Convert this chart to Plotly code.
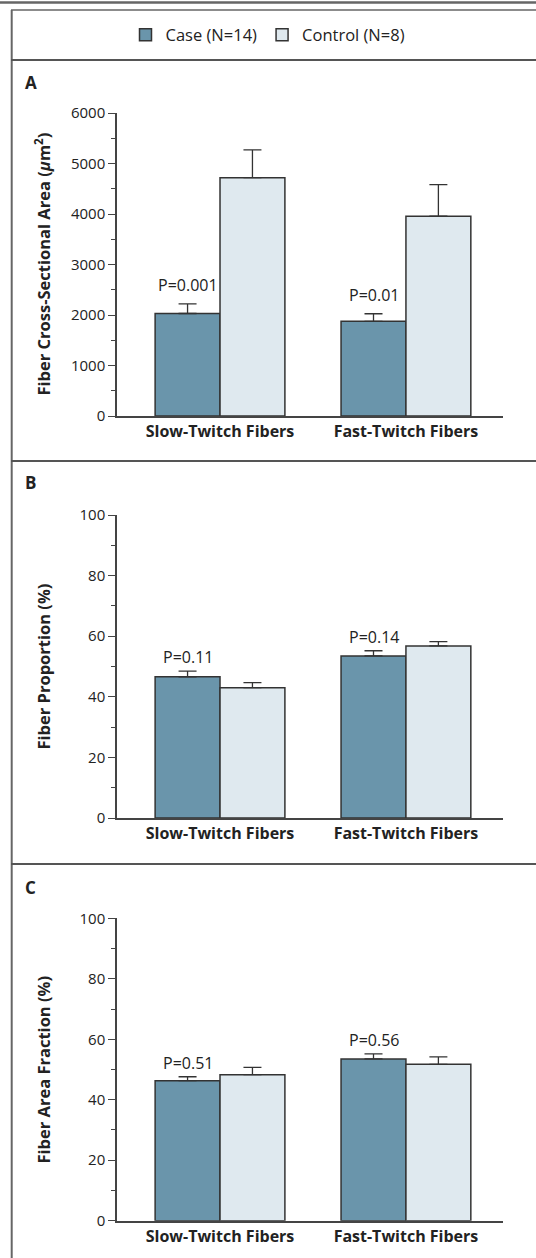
import plotly.graph_objects as go

categories = ["Slow-Twitch Fibers", "Fast-Twitch Fibers"]
series_names = ["Case (N=14)", "Control (N=8)"]

area_case = [2030, 1875]
area_case_err = [190, 150]
area_ctrl = [4720, 3955]
area_ctrl_err = [550, 625]

prop_case = [46.6, 53.5]
prop_case_err = [1.9, 1.7]
prop_ctrl = [43.0, 56.8]
prop_ctrl_err = [1.7, 1.4]

frac_case = [46.3, 53.5]
frac_case_err = [1.3, 1.7]
frac_ctrl = [48.3, 51.7]
frac_ctrl_err = [2.4, 2.5]

p_area = ["P=0.001", "P=0.01"]
p_prop = ["P=0.11", "P=0.14"]
p_frac = ["P=0.51", "P=0.56"]

y_titles = ["Fiber Cross-Sectional Area (<i>µ</i>m<sup>2</sup>)",
            "Fiber Proportion (%)", "Fiber Area Fraction (%)"]
panel_letters = ["A", "B", "C"]
y_ranges = [[0, 6000], [0, 100], [0, 100]]
y_dticks = [1000, 20, 20]

W, H = 536, 1258
FONT = "Open Sans"
CASE_COLOR = "#6a95ab"
CTRL_COLOR = "#dfe9ef"
EDGE = "#333333"

panels = [
    (area_case, area_case_err, area_ctrl, area_ctrl_err, p_area, 19),
    (prop_case, prop_case_err, prop_ctrl, prop_ctrl_err, p_prop, 14),
    (frac_case, frac_case_err, frac_ctrl, frac_ctrl_err, p_frac, 14),
]
# pixel positions (top of range, bottom of range)
pix = [(113, 416), (515, 818), (918.3, 1220.7)]
x_dom = [117 / W, 503 / W]

fig = go.Figure()
layout = dict(
    width=W, height=H, autosize=False,
    margin=dict(l=0, r=0, t=0, b=0, pad=0, autoexpand=False),
    paper_bgcolor="white", plot_bgcolor="white",
    font=dict(family=FONT, size=14, color="#222"),
    barmode="overlay",
    showlegend=True,
    legend=dict(orientation="h", x=0.5, xanchor="center", y=1 - 35 / H, yanchor="middle",
                font=dict(size=16.5, color="#222"), itemwidth=30, tracegroupgap=0,
                bgcolor="rgba(0,0,0,0)"),
)
annotations = []
shapes = []

for i, (cv, ce, tv, te, pv, shift) in enumerate(panels):
    n = "" if i == 0 else str(i + 1)
    xa = "x" + n
    ya = "y" + n
    fig.add_trace(go.Bar(
        x=categories, y=cv, name=series_names[0], xaxis=xa, yaxis=ya,
        offset=-0.349, width=0.349,
        marker=dict(color=CASE_COLOR, line=dict(color=EDGE, width=1.5)),
        error_y=dict(type="data", array=ce, arrayminus=[0] * len(ce), symmetric=False,
                     color=EDGE, thickness=1.3, width=9),
        showlegend=(i == 0), legendgroup="case",
    ))
    fig.add_trace(go.Bar(
        x=categories, y=tv, name=series_names[1], xaxis=xa, yaxis=ya,
        offset=0, width=0.349,
        marker=dict(color=CTRL_COLOR, line=dict(color=EDGE, width=1.5)),
        error_y=dict(type="data", array=te, arrayminus=[0] * len(te), symmetric=False,
                     color=EDGE, thickness=1.3, width=9),
        showlegend=(i == 0), legendgroup="ctrl",
    ))
    top, bot = pix[i]
    dom = [1 - bot / H, 1 - top / H]
    layout["xaxis" + n] = dict(
        domain=x_dom, anchor=ya, type="category", automargin=False,
        range=[-0.554, 1.522], showline=True, linecolor="#444", linewidth=1.5,
        ticks="", showgrid=False, zeroline=False,
        tickfont=dict(family=FONT, size=16, weight="bold", color="#222"),
    )
    layout["yaxis" + n] = dict(
        domain=dom, anchor=xa, range=y_ranges[i], dtick=y_dticks[i], automargin=False,
        showline=True, linecolor="#444", linewidth=1.5,
        ticks="outside", ticklen=7, tickwidth=1.3, tickcolor="#444",
        minor=dict(dtick=y_dticks[i] / 2, ticks="outside", ticklen=4, tickwidth=1.3,
                   tickcolor="#444", showgrid=False),
        showgrid=False, zeroline=False,
        tickfont=dict(family=FONT, size=15, color="#222"),
    )
    # p-value labels above case bars
    for j, cat in enumerate(categories):
        annotations.append(dict(
            x=j - 0.1745, y=cv[j] + ce[j], xref=xa, yref=ya, text=pv[j],
            showarrow=False, yanchor="middle", yshift=shift,
            font=dict(family=FONT, size=16, color="#222"),
        ))
    # axis title
    annotations.append(dict(
        x=43 / W, y=(dom[0] + dom[1]) / 2, xref="paper", yref="paper",
        text="<b>" + y_titles[i] + "</b>", textangle=-90, showarrow=False,
        xanchor="center", yanchor="middle",
        font=dict(family=FONT, size=16.5, color="#222"),
    ))
    # panel letter
    letter_y = [82, 483, 887][i]
    annotations.append(dict(
        x=23 / W, y=1 - letter_y / H, xref="paper", yref="paper",
        text="<b>" + panel_letters[i] + "</b>", showarrow=False,
        xanchor="left", yanchor="middle",
        font=dict(family=FONT, size=17, color="#222"),
    ))

# frame lines
FR = "#666666"
shapes.append(dict(type="line", xref="paper", yref="paper", x0=0, x1=1,
                   y0=1 - 2.5 / H, y1=1 - 2.5 / H, line=dict(color=FR, width=2.5)))
shapes.append(dict(type="line", xref="paper", yref="paper", x0=11 / W, x1=1,
                   y0=1 - 10 / H, y1=1 - 10 / H, line=dict(color=FR, width=1.5)))
shapes.append(dict(type="line", xref="paper", yref="paper", x0=11.7 / W, x1=11.7 / W,
                   y0=0, y1=1 - 10 / H, line=dict(color=FR, width=2)))
for yy in [60, 461, 864]:
    shapes.append(dict(type="line", xref="paper", yref="paper", x0=11 / W, x1=1,
                       y0=1 - yy / H, y1=1 - yy / H, line=dict(color="#555", width=2.2)))

layout["annotations"] = annotations
layout["shapes"] = shapes
fig.update_layout(**layout)
fig.write_html(
    "out.html",
    config={"displayModeBar": False},
    post_script="document.body.style.margin='0';document.body.style.padding='0';"
                "document.body.style.overflow='hidden';",
)
